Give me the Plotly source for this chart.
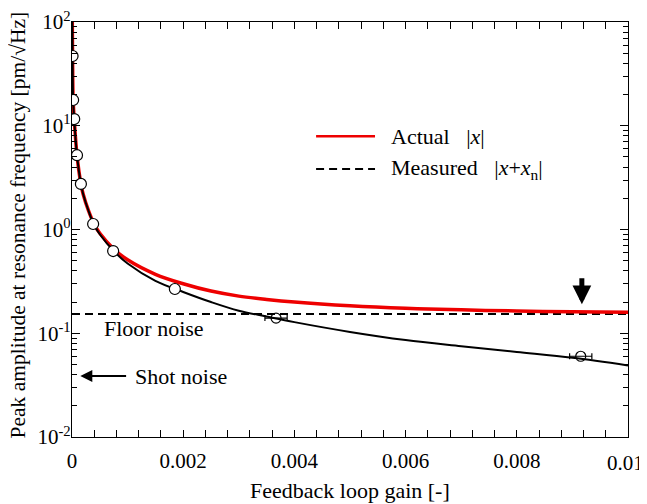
import numpy as np
import plotly.graph_objects as go

# Data
gain_curve = [0.000005, 0.00001, 0.00002, 0.00004, 0.00009, 0.00016, 0.0002, 0.0003, 0.0004,
              0.0005, 0.00075, 0.001, 0.0015, 0.002, 0.0025, 0.003, 0.0035, 0.004, 0.005,
              0.006, 0.007, 0.008, 0.009, 0.01]
measured_curve = [100, 47, 18, 11.5, 5.2, 2.75, 2.2, 1.5, 1.1,
                  0.9, 0.62, 0.47, 0.32, 0.25, 0.2, 0.165, 0.145, 0.128, 0.103,
                  0.086, 0.075, 0.066, 0.058, 0.049]
actual_curve = [100, 47, 18, 11.5, 5.2, 2.75, 2.2, 1.5, 1.12,
                0.92, 0.65, 0.51, 0.37, 0.3, 0.255, 0.228, 0.212, 0.2, 0.184,
                0.174, 0.168, 0.164, 0.161, 0.159]
gain_pts = [0.00001, 0.00002, 0.00004, 0.00009, 0.00016, 0.00038, 0.00074, 0.00185]
amp_pts = [47, 17.7, 11.6, 5.2, 2.75, 1.13, 0.62, 0.267]
gain_err_pts = [0.00367, 0.00915]
amp_err_pts = [0.14, 0.060]
gain_err = [0.0002, 0.0002]
floor_noise = 0.153
shot_noise = 0.0387
x_ticks = [0, 0.002, 0.004, 0.006, 0.008, 0.01]
x_ticklabels = ["0", "0.002", "0.004", "0.006", "0.008", "0.01"]
y_ticks = [0.01, 0.1, 1, 10, 100]
y_ticklabels = ["10<sup>-2</sup>", "10<sup>-1</sup>", "10<sup>0</sup>", "10<sup>1</sup>", "10<sup>2</sup>"]

FONT = "Liberation Serif"

fig = go.Figure()
fig.add_trace(go.Scatter(x=[0, 0.01], y=[floor_noise, floor_noise], mode="lines",
                         line=dict(color="black", width=2, dash="8px,5px"), showlegend=False))
fig.add_trace(go.Scatter(x=gain_curve, y=actual_curve, mode="lines",
                         line=dict(color="#ee0000", width=3.5, shape="spline"), showlegend=False))
fig.add_trace(go.Scatter(x=gain_curve, y=measured_curve, mode="lines",
                         line=dict(color="black", width=2, shape="spline"), showlegend=False))
fig.add_trace(go.Scatter(x=gain_pts, y=amp_pts, mode="markers",
                         marker=dict(symbol="circle", size=11, color="white",
                                     line=dict(color="black", width=1.2)), showlegend=False))
fig.add_trace(go.Scatter(x=gain_err_pts, y=amp_err_pts, mode="markers",
                         marker=dict(symbol="circle", size=10, color="rgba(255,255,255,0)",
                                     line=dict(color="black", width=1.2)),
                         error_x=dict(type="data", array=gain_err, color="black", thickness=1.2, width=3),
                         showlegend=False))

# Legend drawn manually
fig.add_shape(type="line", xref="paper", yref="paper", x0=0.439, x1=0.545, y0=0.725, y1=0.725,
              line=dict(color="#ee0000", width=2.5))
fig.add_shape(type="line", xref="paper", yref="paper", x0=0.439, x1=0.545, y0=0.646, y1=0.646,
              line=dict(color="black", width=2, dash="8px,5px"))
fig.add_annotation(xref="paper", yref="paper", x=0.57, y=0.725, xanchor="left", yanchor="middle",
                   text="Actual&nbsp;&nbsp;&nbsp;|<i>x</i>|", showarrow=False,
                   font=dict(family=FONT, size=22, color="black"))
fig.add_annotation(xref="paper", yref="paper", x=0.57, y=0.646, xanchor="left", yanchor="middle",
                   text="Measured&nbsp;&nbsp;&nbsp;|<i>x</i>+<i>x</i><sub>n</sub>|", showarrow=False,
                   font=dict(family=FONT, size=22, color="black"))

# Text annotations
fig.add_annotation(x=0.00148, y=np.log10(0.112), text="Floor noise", showarrow=False,
                   font=dict(family=FONT, size=22, color="black"))
fig.add_annotation(x=0.00110, y=np.log10(shot_noise), text="Shot noise", showarrow=False,
                   xanchor="left", font=dict(family=FONT, size=22, color="black"))
fig.add_annotation(x=0.00015, y=np.log10(shot_noise), ax=0.001, ay=np.log10(shot_noise),
                   axref="x", ayref="y", text="", showarrow=True, arrowhead=2, arrowsize=1.2,
                   arrowwidth=2, arrowcolor="black")
fig.add_annotation(x=0.00917, y=np.log10(0.19), ax=0.00917, ay=np.log10(0.35),
                   axref="x", ayref="y", text="", showarrow=True, arrowhead=2, arrowsize=0.75,
                   arrowwidth=5, arrowcolor="black")

# Last x tick label drawn right-aligned so it stays inside the window
fig.add_annotation(xref="paper", yref="paper", x=1.0324, y=-0.0627, xanchor="right", yanchor="middle",
                   text=x_ticklabels[-1], showarrow=False,
                   font=dict(family=FONT, size=21, color="black"))

# Axis titles as annotations
fig.add_annotation(xref="paper", yref="paper", x=0.5, y=-0.128, yanchor="middle",
                   text="Feedback loop gain [-]", showarrow=False,
                   font=dict(family=FONT, size=22, color="black"))
fig.add_annotation(xref="paper", yref="paper", x=-0.098, y=0.511, xanchor="center", yanchor="middle",
                   textangle=-90, text="Peak amplitude at resonance frequency [pm/√Hz]",
                   showarrow=False, font=dict(family=FONT, size=21.5, color="black"))

# the page body adds an 8px offset, so the figure is sized to fit the window
fig.update_layout(
    width=639, height=496,
    margin=dict(l=64, r=19, t=14, b=67),
    plot_bgcolor="white", paper_bgcolor="white",
    font=dict(family=FONT, size=22, color="black"),
)
fig.update_xaxes(range=[0, 0.01], tickvals=x_ticks, ticktext=x_ticklabels[:-1] + [""], automargin=False,
                 ticks="inside", ticklen=7, tickcolor="black", showline=True, linecolor="black",
                 linewidth=1.2, mirror="allticks", showgrid=False, zeroline=False,
                 ticklabelstandoff=5, ticklabeloverflow="allow",
                 minor=dict(dtick=0.0004, ticks="inside", ticklen=7, tickcolor="black", showgrid=False),
                 tickfont=dict(family=FONT, size=21))
fig.update_yaxes(type="log", range=[-2, 2], tickvals=y_ticks, ticktext=y_ticklabels, automargin=False,
                 ticks="inside", ticklen=8, tickcolor="black", showline=True, linecolor="black",
                 linewidth=1.2, mirror="allticks", showgrid=False, zeroline=False,
                 ticklabelstandoff=-4, ticklabeloverflow="allow",
                 minor=dict(dtick="D1", ticks="inside", ticklen=5, tickcolor="black", showgrid=False),
                 tickfont=dict(family=FONT, size=21))

fig.write_html("out.html")
